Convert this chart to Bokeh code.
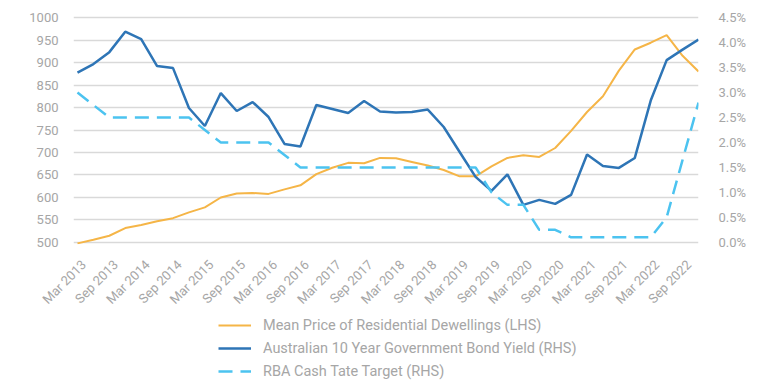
import math
from bokeh.plotting import figure
from bokeh.layouts import column
from bokeh.models import Range1d, LinearAxis, Legend, LegendItem, FixedTicker, PrintfTickFormatter
from bokeh.embed import file_html
from bokeh.resources import INLINE

quarters = []
for yr in range(2013, 2023):
    for m in ["Mar", "Jun", "Sep", "Dec"]:
        quarters.append(f"{m} {yr}")

price = [498, 506, 515, 532, 539, 547, 554, 567, 578, 600,
         609, 610, 608, 618, 627, 652, 666, 677, 676, 688,
         687, 679, 671, 661, 647, 647, 669, 688, 694, 690,
         710, 748, 790, 825, 882, 929, 944, 961, 915, 880]

bond = [3.40, 3.57, 3.81, 4.22, 4.07, 3.53, 3.49, 2.69, 2.33, 2.99,
        2.63, 2.81, 2.51, 1.97, 1.92, 2.75, 2.67, 2.59, 2.83, 2.62,
        2.60, 2.61, 2.66, 2.31, 1.81, 1.31, 1.03, 1.36, 0.75, 0.85,
        0.77, 0.95, 1.76, 1.53, 1.49, 1.69, 2.84, 3.65, 3.86, 4.06]

cash = [3.00, 2.75, 2.50, 2.50, 2.50, 2.50, 2.50, 2.50, 2.25, 2.00,
        2.00, 2.00, 2.00, 1.75, 1.50, 1.50, 1.50, 1.50, 1.50, 1.50,
        1.50, 1.50, 1.50, 1.50, 1.50, 1.50, 1.00, 0.75, 0.75, 0.25,
        0.25, 0.10, 0.10, 0.10, 0.10, 0.10, 0.10, 0.50, 1.65, 2.80]

left_ticks = [500, 550, 600, 650, 700, 750, 800, 850, 900, 950, 1000]
right_ticks = [0.0, 0.5, 1.0, 1.5, 2.0, 2.5, 3.0, 3.5, 4.0, 4.5]
series_names = ["Mean Price of Residential Dewellings (LHS)",
                "Australian 10 Year Government Bond Yield (RHS)",
                "RBA Cash Tate Target (RHS)"]

x = list(range(len(quarters)))

FONT = "Roboto"
GREY = "#a6a6a6"
ORANGE = "#F5B547"
BLUE = "#2E75B6"
LBLUE = "#4CC3F0"

W = 780
p = figure(width=W, height=316, output_backend="svg", toolbar_location=None,
           x_range=Range1d(-0.25, 39), y_range=Range1d(495.5, 1004.5),
           min_border_left=73, min_border_right=82, min_border_top=15, min_border_bottom=72)
p.extra_y_ranges = {"pct": Range1d(-0.044, 4.544)}
p.outline_line_color = None
p.background_fill_color = None
p.border_fill_color = None

ya = p.yaxis[0]
ya.ticker = FixedTicker(ticks=left_ticks)

xa = p.xaxis[0]
label_pos = [i + 0.4 for i in range(0, 40, 2)]
xa.ticker = FixedTicker(ticks=label_pos)
xa.major_label_overrides = {pos: quarters[i] for pos, i in zip(label_pos, range(0, 40, 2))}
xa.major_label_orientation = math.pi / 4

ra = LinearAxis(y_range_name="pct", ticker=FixedTicker(ticks=right_ticks),
                formatter=PrintfTickFormatter(format="%.1f%%"))
p.add_layout(ra, "right")

for ax in [ya, xa, ra]:
    ax.axis_line_color = None
    ax.major_tick_line_color = None
    ax.minor_tick_line_color = None
    ax.major_label_text_font = FONT
    ax.major_label_text_font_size = "13px"
    ax.major_label_text_color = GREY
ya.major_label_standoff = 9
ra.major_label_standoff = 14
xa.major_label_standoff = 12

p.xgrid.grid_line_color = None
p.ygrid.ticker = FixedTicker(ticks=left_ticks)
p.ygrid.grid_line_color = "#d9d9d9"
p.ygrid.grid_line_width = 1.5

styles = [dict(line_color=ORANGE, line_width=2),
          dict(line_color=BLUE, line_width=2.5),
          dict(line_color=LBLUE, line_width=2.5, line_dash="14 8")]

p.line(x, price, **styles[0])
p.line(x, bond, y_range_name="pct", **styles[1])
p.line(x, cash, y_range_name="pct", **styles[2])

# legend figure (its frame is aligned with the main frame in the column)
q = figure(width=W, height=74, output_backend="svg", toolbar_location=None,
           x_range=Range1d(0, 1), y_range=Range1d(0, 1),
           min_border_left=73, min_border_right=82, min_border_top=0, min_border_bottom=0)
q.axis.visible = False
q.grid.visible = False
q.outline_line_color = None
q.background_fill_color = None
q.border_fill_color = None
rs = [q.line([-10, -9], [-10, -9], **s) for s in styles]

legend = Legend(items=[LegendItem(label=n, renderers=[r]) for n, r in zip(series_names, rs)],
                location=(145, 9), orientation="vertical")
legend.border_line_color = None
legend.background_fill_alpha = 0
legend.padding = 0
legend.margin = 0
legend.spacing = 3
legend.glyph_width = 33
legend.glyph_height = 20
legend.label_height = 20
legend.label_standoff = 12
legend.label_text_font = FONT
legend.label_text_font_size = "14.5px"
legend.label_text_color = GREY
q.add_layout(legend, "center")

layout = column(p, q, spacing=0)
open("out.html", "w").write(file_html(layout, INLINE))
